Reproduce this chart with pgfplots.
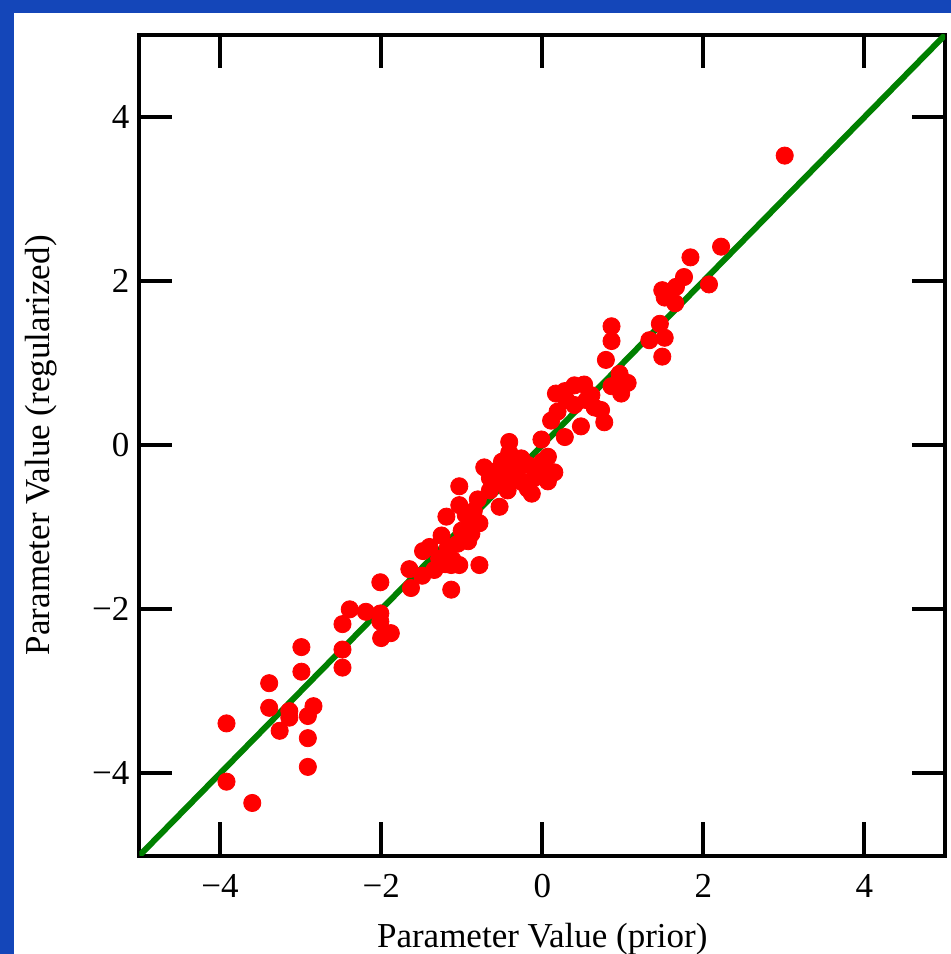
\documentclass[border=0pt]{standalone}
\usepackage{pgfplots}
\pgfplotsset{compat=1.18}
\usepackage{fontspec}
\setmainfont{Liberation Serif}
\definecolor{bgblue}{RGB}{20,70,185}
\definecolor{dgreen}{RGB}{0,128,0}
\begin{document}
\begin{tikzpicture}
\fill[bgblue] (0,0) rectangle (475.5pt,477pt);
\fill[white] (7.2pt,0) rectangle (475.5pt,470.5pt);
\begin{axis}[
  at={(69.75pt,49.25pt)}, anchor=south west,
  scale only axis, width=402.75pt, height=410.25pt,
  xmin=-5, xmax=5, ymin=-5, ymax=5,
  xtick={-4,-2,0,2,4}, ytick={-4,-2,0,2,4},
  xticklabels={−4,−2,0,2,4}, yticklabels={−4,−2,0,2,4},
  tick align=inside, major tick length=16.5pt,
  minor tick num=0,
  every tick/.style={black, line width=2pt},
  axis line style={black, line width=2pt},
  ticklabel style={font=\fontsize{17.5pt}{20pt}\selectfont},
  xticklabel style={yshift=-6pt},
  yticklabel style={xshift=-1.5pt},
  label style={font=\fontsize{17.5pt}{21pt}\selectfont},
  xlabel={Parameter Value (prior)},
  ylabel={Parameter Value (regularized)},
  xlabel style={at={(axis description cs:0.5,0)}, anchor=center, yshift=-42pt},
  ylabel style={at={(axis description cs:0,0.5)}, anchor=center, yshift=49pt},
  clip=true,
]
\addplot[only marks, mark=*, mark size=4.3pt, color=red, mark options={draw=red, fill=red}] coordinates {
(-3.92,-3.39) (-3.92,-4.10) (-3.60,-4.36) (-3.39,-2.90) (-3.39,-3.20)
(-3.26,-3.48) (-3.14,-3.24) (-3.14,-3.32) (-2.99,-2.46) (-2.99,-2.76)
(-2.91,-3.30) (-2.84,-3.18) (-2.91,-3.57) (-2.91,-3.92) (-2.48,-2.18)
(-2.48,-2.49) (-2.48,-2.71) (-2.39,-2.00) (-2.19,-2.03) (-2.01,-1.67)
(-2.01,-2.05) (-2.01,-2.15) (-2.00,-2.35) (-1.88,-2.29) (-1.65,-1.51)
(-1.63,-1.74) (-1.49,-1.59) (-1.13,-1.46) (-1.13,-1.76)
(-1.48,-1.29) (-1.40,-1.24) (-1.34,-1.52) (-1.17,-1.24) (-1.11,-1.40)
(-1.03,-1.46) (-1.00,-1.04) (-0.92,-1.17) (-0.78,-1.46) (-1.19,-0.87)
(-1.03,-0.73) (-1.03,-0.50) (-0.80,-0.66) (-0.78,-0.95) (-0.53,-0.75)
(-0.85,-0.80) (-0.72,-0.27) (-0.59,-0.43) (-0.47,-0.39) (-0.45,-0.50)
(-0.41,0.04) (-0.41,-0.09) (-0.30,-0.18) (-0.18,-0.24) (-0.18,-0.53)
(-0.13,-0.59) (-0.03,-0.30) (-0.01,0.07) (0.07,-0.14) (0.15,-0.33)
(0.07,-0.44) (0.28,0.10) (0.11,0.30) (0.19,0.41) (0.17,0.63)
(0.28,0.66) (0.40,0.73) (0.52,0.74) (0.40,0.49) (0.48,0.23)
(0.61,0.61) (0.65,0.46) (0.73,0.43) (0.77,0.28) (0.86,0.72)
(0.79,1.04) (0.96,0.87) (1.06,0.76) (0.98,0.63) (0.86,1.45)
(0.86,1.27) (1.33,1.28) (1.46,1.48) (1.52,1.31) (1.49,1.08)
(1.49,1.89) (1.52,1.80) (1.65,1.73) (1.66,1.93) (1.76,2.05)
(1.84,2.29) (2.07,1.96) (2.22,2.42) (3.01,3.53)
(-0.60,-0.35) (-0.35,-0.30) (-0.25,-0.45) (-0.10,-0.40) (-0.65,-0.55)
(-0.26,-0.16) (-0.43,-0.55) (-0.90,-0.95) (-1.25,-1.10) (0.00,-0.20)
(-1.28,-1.38) (-1.05,-1.20) (-0.95,-0.85) (-0.55,-0.30) (-0.50,-0.20)
(-0.30,-0.40) (0.30,0.55) (0.55,0.55) (-1.20,-1.45) (-0.88,-1.08)
(-0.65,-0.40) (0.05,-0.30)
};
\addplot[dgreen, line width=3pt] coordinates {(-5,-5) (5,5)};
\end{axis}
\pgfresetboundingbox
\useasboundingbox (0,0) rectangle (475.5pt,477pt);
\end{tikzpicture}
\end{document}
